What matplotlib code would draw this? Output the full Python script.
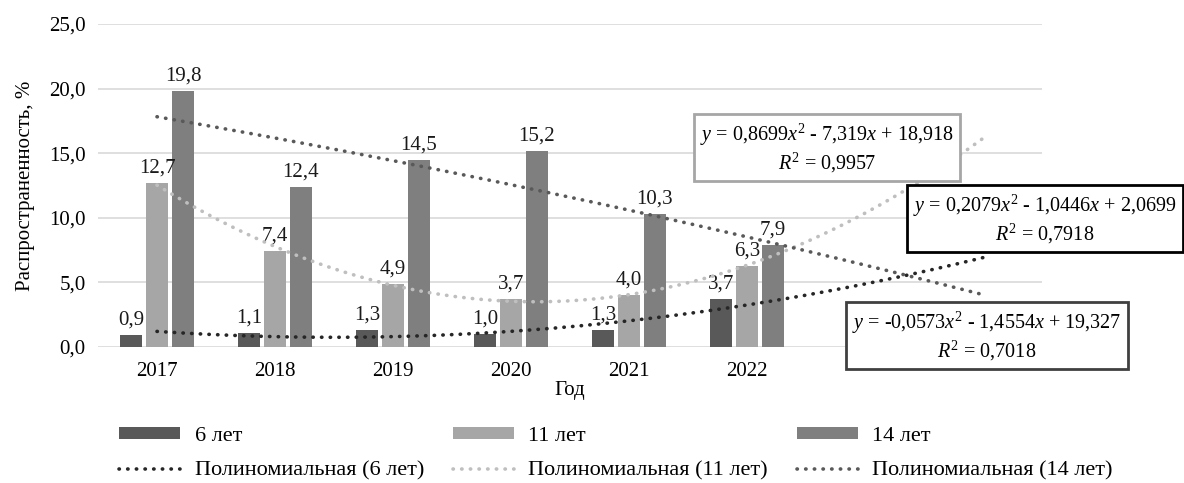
import numpy as np
import matplotlib
matplotlib.use("Agg")
import matplotlib.pyplot as plt

plt.rcParams['font.family'] = ['Liberation Serif', 'DejaVu Serif']
plt.rcParams['mathtext.fontset'] = 'custom'
plt.rcParams['mathtext.rm'] = 'Liberation Serif'
plt.rcParams['mathtext.it'] = 'Liberation Serif:italic'

# Data
years = ['2017', '2018', '2019', '2020', '2021', '2022']
age6 = [0.9, 1.1, 1.3, 1.0, 1.3, 3.7]
age11 = [12.7, 7.4, 4.9, 3.7, 4.0, 6.3]
age14 = [19.8, 12.4, 14.5, 15.2, 10.3, 7.9]
series_names = ['6 лет', '11 лет', '14 лет']
trend_names = ['Полиномиальная (6 лет)', 'Полиномиальная (11 лет)', 'Полиномиальная (14 лет)']
eq_texts = [
    '$y$ = 0,2079$x^2$ - 1,0446$x$ + 2,0699\n$R^2$ = 0,7918',
    '$y$ = 0,8699$x^2$ - 7,319$x$ + 18,918\n$R^2$ = 0,9957',
    '$y$ = -0,0573$x^2$ - 1,4554$x$ + 19,327\n$R^2$ = 0,7018',
]
forecast = 2  # trendline extends 2 periods forward

bar_colors = ['#595959', '#a6a6a6', '#7f7f7f']
trend_colors = ['#262626', '#bfbfbf', '#595959']
box_edges = ['#000000', '#a6a6a6', '#404040']
dots = (0, (0.1, 2.3))

fig = plt.figure(figsize=(11.84, 4.83), dpi=100)
ax = fig.add_axes([98 / 1184, 1 - 347 / 483, (1042 - 98) / 1184, (347 - 24) / 483])

x = np.arange(1, len(years) + 1)
width = 0.18
offsets = [-0.22, 0.0, 0.22]
bars = []
for vals, off, col, name in zip([age6, age11, age14], offsets, bar_colors, series_names):
    b = ax.bar(x + off, vals, width, color=col, label=name, zorder=2)
    ax.bar_label(b, labels=[f'{v:.1f}'.replace('.', ',') for v in vals],
                 padding=4, fontsize=15, color='#1a1a1a')
    bars.append(b)

# polynomial trendlines (2nd order) fitted to the data
xt = np.linspace(1, len(years) + forecast, 200)
lines = []
for vals, col, name in zip([age6, age11, age14], trend_colors, trend_names):
    coef = np.polyfit(x, vals, 2)
    ln, = ax.plot(xt, np.polyval(coef, xt), linestyle=dots, linewidth=2.6,
                  color=col, label=name, zorder=3, dash_capstyle='round')
    lines.append(ln)

ax.set_xlim(0.5, len(years) + forecast + 0.5)
ax.set_ylim(0, 25)
ax.set_xticks(x)
ax.set_xticklabels(years, fontsize=15)
ax.set_yticks(np.arange(0, 26, 5))
ax.set_yticklabels([f'{v:.1f}'.replace('.', ',') for v in np.arange(0, 26, 5)], fontsize=15)
ax.tick_params(axis='x', length=0, pad=11)
ax.tick_params(axis='y', length=0, pad=9)
ax.yaxis.grid(True, color='#d9d9d9', linewidth=1.2, zorder=0)
ax.set_axisbelow(True)
for s in ax.spines.values():
    s.set_visible(False)
ax.set_xlabel('Год', fontsize=15, labelpad=0)
ax.set_ylabel('Распространенность, %', fontsize=15, labelpad=10)

# equation boxes
eq_pos = [(1045, 219), (827, 148), (987, 336)]
for txt, (px, py), ec in zip(eq_texts, eq_pos, box_edges):
    fig.text(px / 1184, 1 - py / 483, txt, ha='center', va='center', fontsize=14.5,
             multialignment='center', linespacing=1.15,
             bbox=dict(boxstyle='square,pad=0.3', fc='white', ec=ec, lw=2))

handles = [bars[0], lines[0], bars[1], lines[1], bars[2], lines[2]]
labels = [series_names[0], trend_names[0], series_names[1], trend_names[1],
          series_names[2], trend_names[2]]
fig.legend(handles, labels, loc='upper left', bbox_to_anchor=(119 / 1184, 1 - 427 / 483),
           ncol=3, frameon=False, fontsize=16, handlelength=2.75, handleheight=0.45,
           handletextpad=0.65, columnspacing=1.3, labelspacing=0.7,
           borderpad=0, borderaxespad=0)

fig.savefig('out.png', dpi=100)
